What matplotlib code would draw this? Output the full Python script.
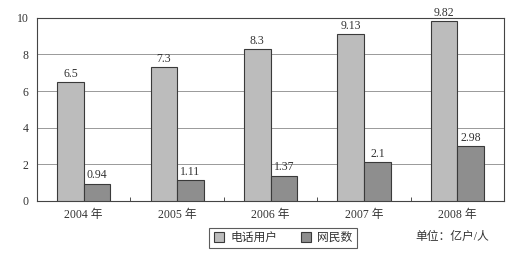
import matplotlib
matplotlib.use("Agg")
import matplotlib.pyplot as plt
import numpy as np

years = ["2004 年", "2005 年", "2006 年", "2007 年", "2008 年"]
phone_users = [6.5, 7.3, 8.3, 9.13, 9.82]
netizens = [0.94, 1.11, 1.37, 2.1, 2.98]
series_names = ["电话用户", "网民数"]
unit_note = "单位：亿户/人"
y_ticks = [0, 2, 4, 6, 8, 10]

plt.rcParams["font.family"] = ["Liberation Serif", "Noto Sans CJK SC", "DejaVu Sans"]

fig = plt.figure(figsize=(5.29, 2.56), dpi=100)
ax = fig.add_axes([0.070, 0.216, 0.883, 0.714])

x = np.arange(len(years))
width = 0.285
b1 = ax.bar(x - width / 2, phone_users, width, color="#bcbcbc", edgecolor="#3a3a3a",
            linewidth=0.8, label=series_names[0], zorder=3)
b2 = ax.bar(x + width / 2, netizens, width, color="#8e8e8e", edgecolor="#3a3a3a",
            linewidth=0.8, label=series_names[1], zorder=3)

for bars, vals in ((b1, phone_users), (b2, netizens)):
    for rect, v in zip(bars, vals):
        ax.text(rect.get_x() + rect.get_width() / 2, v + 0.12, f"{v:g}",
                ha="center", va="bottom", fontsize=8.5, color="#333333")

ax.set_xlim(-0.5, len(years) - 0.5)
ax.set_ylim(0, 10)
ax.set_yticks(y_ticks)
ax.tick_params(axis="y", length=0, labelsize=8.5, colors="#333333", pad=6)
ax.set_xticks(x)
ax.set_xticklabels(years)
ax.tick_params(axis="x", length=0, labelsize=8.5, colors="#333333", pad=6)
ax.set_xticks(np.arange(len(years) - 1) + 0.5, minor=True)
ax.tick_params(axis="x", which="minor", length=3, direction="in", color="#333333")
ax.yaxis.grid(True, color="#999999", linewidth=0.7, zorder=0)
for s in ax.spines.values():
    s.set_color("#444444")
    s.set_linewidth(0.8)

leg = fig.legend(handles=[b1, b2], loc="center", bbox_to_anchor=(0.535, 0.07), ncol=2,
                 fontsize=8.5, frameon=True, fancybox=False, edgecolor="#333333",
                 handlelength=0.9, handleheight=0.9, columnspacing=2.0,
                 handletextpad=0.5, borderpad=0.35)
leg.get_frame().set_linewidth(0.8)
for t in leg.get_texts():
    t.set_color("#333333")

fig.text(0.855, 0.073, unit_note, ha="center", va="center", fontsize=8.5, color="#333333")

fig.savefig("out.png", dpi=100)
